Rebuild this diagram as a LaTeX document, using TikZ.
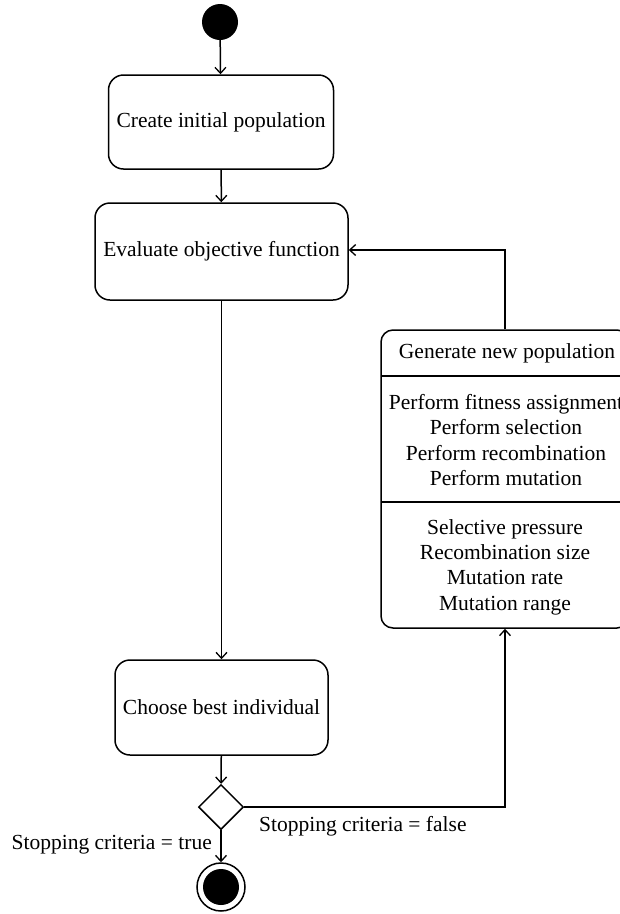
\documentclass[tikz,border=0pt]{standalone}
\usepackage{fontspec}
\setmainfont{Liberation Serif}
\usetikzlibrary{arrows.meta,shapes.geometric}
\begin{document}
\begin{tikzpicture}[x=1pt,y=-1pt,
  every node/.style={font=\fontsize{21.5}{25.4}\selectfont, inner sep=0pt},
  flow/.style={line width=1.5pt, -{Straight Barb[length=6pt,width=11pt,line width=1.3pt]}},
  link/.style={line width=1.5pt},
  activity/.style={draw, line width=1.5pt, rounded corners=15pt, align=center},
  label/.style={font=\fontsize{21.5}{25.4}\selectfont}]
  \path[use as bounding box, clip] (0,0) rectangle (620,914);

  % initial state
  \node (start) [circle, fill=black, minimum size=36pt] at (220,22) {};

  % main activities
  \node (create) [activity, minimum width=225pt, minimum height=94pt] at (221,122) {Create initial population};
  \node (eval) [activity, minimum width=253pt, minimum height=97pt] at (221.5,251.5) {Evaluate objective function};
  \node (choose) [activity, minimum width=213pt, minimum height=95pt] at (221.5,707.5) {Choose best individual};

  % decision and final state
  \node (dec) [diamond, draw, line width=1.5pt, minimum width=45pt, minimum height=45pt] at (221,807) {};
  \node (final) [circle, draw, line width=1.5pt, minimum size=48pt] at (221,887) {};
  \node (finalcore) [circle, fill=black, minimum size=36pt] at (221,887) {};

  % generation activity with its three compartments
  \node (gen) [draw, line width=1.5pt, rounded corners=12pt, minimum width=248pt, minimum height=298pt] at (505,479) {};
  \coordinate (d1l) at (381,376); \coordinate (d1r) at (629,376);
  \coordinate (d2l) at (381,502); \coordinate (d2r) at (629,502);
  \draw[link] (d1l) -- (d1r);
  \draw[link] (d2l) -- (d2r);
  \node (genname) at (507,353) {Generate new population};
  \node (genops) [align=center] at (506,440) {Perform fitness assignment\\Perform selection\\Perform recombination\\Perform mutation};
  \node (genpars) [align=center] at (505,567) {Selective pressure\\Recombination size\\Mutation rate\\Mutation range};

  % transitions
  \draw[flow] (start) -- (create);
  \draw[flow] (create) -- (eval);
  \draw[flow] (eval) -- (choose);
  \draw[flow] (choose) -- (dec);
  \draw[flow] (dec) -- (final);
  \coordinate (loopdown) at (505,807);
  \coordinate (loopup) at (505,250);
  \draw[flow] (dec.east) -- (loopdown) -- (gen.south);
  \draw[flow] (gen.north) -- (loopup) -- (eval.east |- loopup);

  % guards
  \node (guardtrue) [label, anchor=east] at (212,845) {Stopping criteria = true};
  \node (guardfalse) [label, anchor=west] at (259,826) {Stopping criteria = false};
\end{tikzpicture}
\end{document}
